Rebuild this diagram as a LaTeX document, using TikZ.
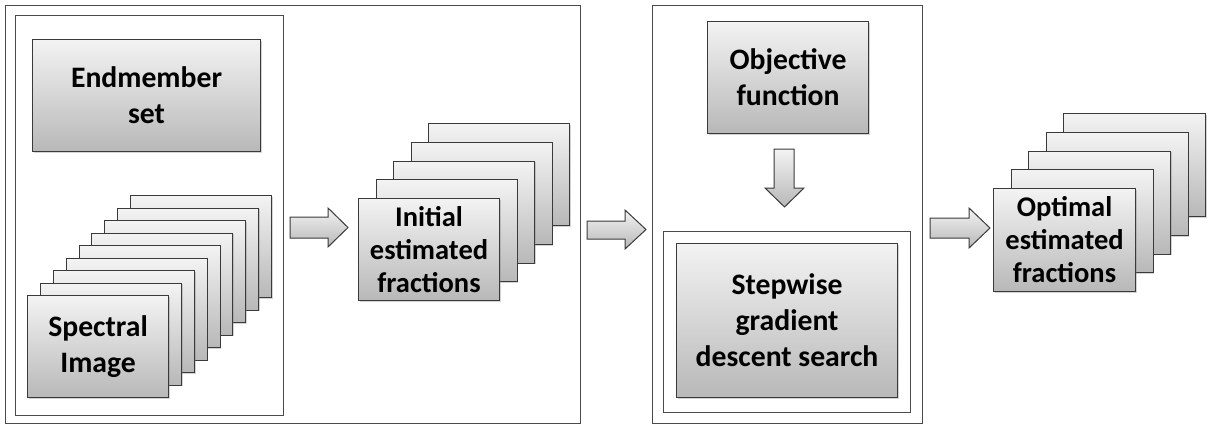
\documentclass[tikz,border=0pt]{standalone}
\usepackage{fontspec}
\setmainfont{Carlito}
\usetikzlibrary{shadows}
\definecolor{topc}{HTML}{F3F3F3}
\definecolor{botc}{HTML}{B8B8B8}
\definecolor{edgec}{HTML}{3A3A3A}
\definecolor{framec}{HTML}{4A4A4A}
\begin{document}
\begin{tikzpicture}[x=1pt,y=-1pt,
  frame/.style={draw=framec, line width=0.9pt},
  boxbase/.style={draw=edgec, line width=1.1pt, top color=topc, bottom color=botc,
    drop shadow={shadow xshift=1.3pt, shadow yshift=-1.3pt, opacity=0.35},
    inner sep=0pt, anchor=north west, align=center},
  bigtext/.style={font=\bfseries\fontsize{29.7}{36}\selectfont},
  smalltext/.style={font=\bfseries\fontsize{28.5}{33}\selectfont},
  card/.style={boxbase, minimum width=141pt, minimum height=102pt},
  blockarrow/.style={draw=edgec, line width=1pt, top color=topc, bottom color=botc, line join=miter}
]
\useasboundingbox (0,0) rectangle (1214,426);

% ---- first frame ----
\draw[frame] (5,5) rectangle (580,423);
\draw[frame] (15,15) rectangle (283,415);
\node[boxbase, bigtext, minimum width=228pt, minimum height=112pt] (endm) at (32,39) {Endmember\\set};
\foreach \i in {8,...,1}
  \node[card] (spec\i) at ({27+12.875*\i},{295-12.5*\i}) {};
\node[card, bigtext] (spec0) at (27,295) {Spectral\\Image};

% ---- arrow 1 ----
\draw[blockarrow] (290,217) -- (328,217) -- (328,208) -- (348,227.5) -- (328,247) -- (328,238) -- (290,238) -- cycle;

% ---- initial fractions ----
\foreach \i in {4,...,1}
  \node[card] (init\i) at ({358+17.5*\i},{198-18.75*\i}) {};
\node[card, smalltext] (init0) at (358,198) {Initial\\estimated\\fractions};

% ---- arrow 2 ----
\draw[blockarrow] (587,221) -- (625,221) -- (625,210) -- (646,229.5) -- (625,249) -- (625,239) -- (587,239) -- cycle;

% ---- second frame ----
\draw[frame] (652,5) rectangle (922,423);
\node[boxbase, bigtext, minimum width=161pt, minimum height=112pt] (obj) at (707,21) {Objective\\function};
\draw[blockarrow] (774,149) -- (794,149) -- (794,188) -- (804,188) -- (784.5,207) -- (765,188) -- (774,188) -- cycle;
\draw[frame] (663,231) rectangle (910,412);
\node[boxbase, bigtext, minimum width=221pt, minimum height=154pt] (step) at (676,243) {Stepwise\\gradient\\descent search};

% ---- arrow 3 ----
\draw[blockarrow] (930,218) -- (969,218) -- (969,208) -- (990,228) -- (969,248) -- (969,238) -- (930,238) -- cycle;

% ---- optimal fractions ----
\foreach \i in {4,...,1}
  \node[card, minimum width=142pt, minimum height=103pt] (opt\i) at ({993+17.5*\i},{188-18.75*\i}) {};
\node[card, smalltext, minimum width=142pt, minimum height=103pt] (opt0) at (993,188) {Optimal\\estimated\\fractions};
\end{tikzpicture}
\end{document}
